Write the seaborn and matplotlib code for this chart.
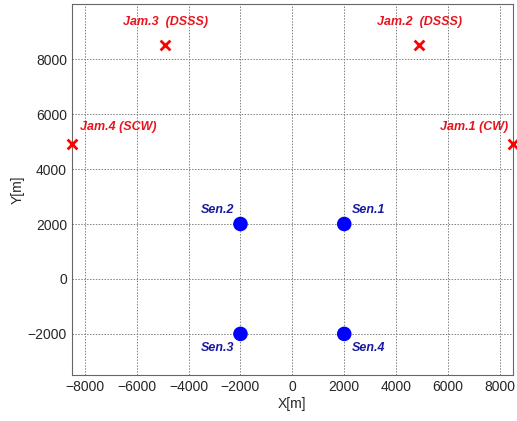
import matplotlib
matplotlib.use("Agg")
import matplotlib.pyplot as plt
import seaborn as sns
import pandas as pd

# positions
sen_names = ["Sen.1", "Sen.2", "Sen.3", "Sen.4"]
sen_x = [2000, -2000, -2000, 2000]
sen_y = [2000, 2000, -2000, -2000]

jam_names = ["Jam.1 (CW)", "Jam.2  (DSSS)", "Jam.3  (DSSS)", "Jam.4 (SCW)"]
jam_x = [8500, 4900, -4900, -8500]
jam_y = [4900, 8500, 8500, 4900]

x_ticks = [-8000, -6000, -4000, -2000, 0, 2000, 4000, 6000, 8000]
y_ticks = [-2000, 0, 2000, 4000, 6000, 8000]

sns.set_style("white")
plt.rcParams['font.family'] = ['Liberation Sans', 'DejaVu Sans']

sen = pd.DataFrame({"x": sen_x, "y": sen_y, "name": sen_names})
jam = pd.DataFrame({"x": jam_x, "y": jam_y, "name": jam_names})

fig = plt.figure(figsize=(5.17, 4.21), dpi=100)
ax = fig.add_axes([0.139, 0.109, 0.853, 0.881])

sns.scatterplot(data=sen, x="x", y="y", ax=ax, color="#0000ff", s=110,
                edgecolor="none", zorder=3, clip_on=False)
sns.scatterplot(data=jam, x="x", y="y", ax=ax, color="#ff0000", marker="x",
                s=50, linewidth=2, zorder=3, clip_on=False)

lab = dict(fontsize=9, fontweight="bold", fontstyle="italic")
# sensor labels
ax.text(2300, 2300, "Sen.1", color="#1a1aa0", ha="left", va="bottom", **lab)
ax.text(-2250, 2300, "Sen.2", color="#1a1aa0", ha="right", va="bottom", **lab)
ax.text(-2250, -2300, "Sen.3", color="#1a1aa0", ha="right", va="top", **lab)
ax.text(2300, -2300, "Sen.4", color="#1a1aa0", ha="left", va="top", **lab)
# jammer labels
ax.text(8300, 5300, jam_names[0], color="#e8141e", ha="right", va="bottom", **lab)
ax.text(4900, 9150, jam_names[1], color="#e8141e", ha="center", va="bottom", **lab)
ax.text(-4900, 9150, jam_names[2], color="#e8141e", ha="center", va="bottom", **lab)
ax.text(-8200, 5300, jam_names[3], color="#e8141e", ha="left", va="bottom", **lab)

ax.set_xlim(-8500, 8500)
ax.set_ylim(-3500, 10000)
ax.set_xticks(x_ticks)
ax.set_yticks(y_ticks)
ax.grid(True, linestyle=(0, (1.5, 1.5)), color="#808080", linewidth=0.7)
ax.tick_params(direction="in", length=4, labelsize=10, color="#555555")
for s in ax.spines.values():
    s.set_color("#666666")
ax.set_xlabel("X[m]", fontsize=10, labelpad=2)
ax.set_ylabel("Y[m]", fontsize=10, labelpad=2)

fig.savefig("out.png", dpi=100)
